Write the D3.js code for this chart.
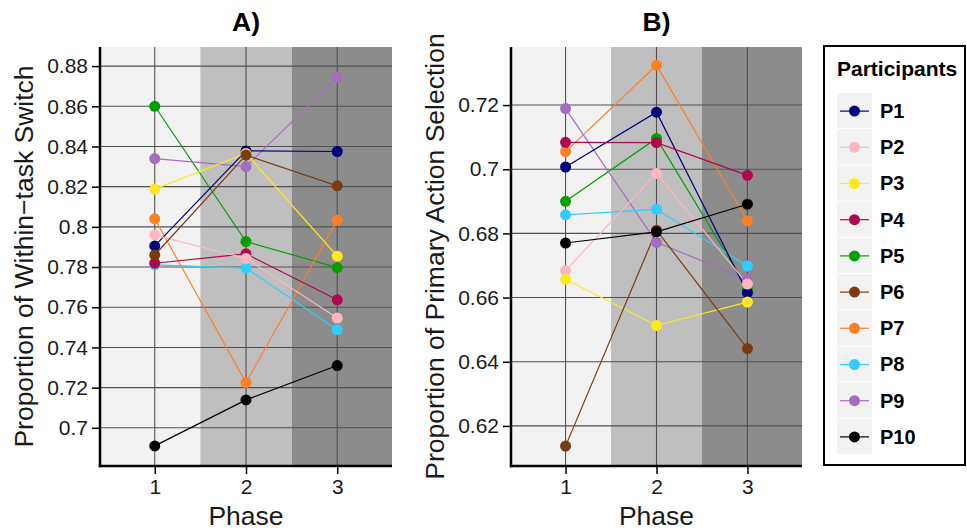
<!DOCTYPE html>
<html>
<head>
<meta charset="utf-8">
<script src="https://cdn.jsdelivr.net/npm/d3@7"></script>
<style>
  body { margin: 0; background: #fff; }
  svg { display: block; font-family: "Liberation Sans", Arial, sans-serif; }
</style>
</head>
<body>
<div id="chart"></div>
<script>
// Two panels of per-participant proportions over three phases, shared legend

const phases = [1, 2, 3];
const participants = ['P1', 'P2', 'P3', 'P4', 'P5', 'P6', 'P7', 'P8', 'P9', 'P10'];
const participantColors = ['#000080', '#ffb6c1', '#ffe81f', '#b0084f', '#00a000',
  '#7a3b10', '#ff7f24', '#33ccff', '#a66cbf', '#000000'];
// stacking order of the points (index into participants), last one on top
const drawOrder = [4, 8, 7, 6, 0, 3, 1, 2, 5, 9];

// A) proportion of within-task switch, one row per participant (phase 1..3)
const withinTaskSwitch = [
  [0.7905, 0.8378, 0.8375],
  [0.7959, 0.7843, 0.7546],
  [0.8188, 0.8365, 0.7854],
  [0.7819, 0.7866, 0.7637],
  [0.8600, 0.7927, 0.7797],
  [0.7860, 0.8357, 0.8204],
  [0.8040, 0.7225, 0.8033],
  [0.7811, 0.7795, 0.7488],
  [0.8340, 0.8300, 0.8743],
  [0.6910, 0.7139, 0.7310]
];

// B) proportion of primary action selection
const primaryAction = [
  [0.7007, 0.7178, 0.6615],
  [0.6684, 0.6987, 0.6642],
  [0.6657, 0.6513, 0.6586],
  [0.7084, 0.7083, 0.6981],
  [0.6900, 0.7096, 0.6628],
  [0.6137, 0.6810, 0.6441],
  [0.7055, 0.7324, 0.6839],
  [0.6858, 0.6875, 0.6698],
  [0.7189, 0.6772, 0.6657],
  [0.6770, 0.6805, 0.6891]
];

const switchTicks = [0.70, 0.72, 0.74, 0.76, 0.78, 0.80, 0.82, 0.84, 0.86, 0.88];
const primaryTicks = [0.62, 0.64, 0.66, 0.68, 0.70, 0.72];
const bandEdges = [[0.4, 1.5], [1.5, 2.5], [2.5, 3.6]];
const bandColors = ['#f2f2f2', '#bfbfbf', '#8c8c8c'];

const W = 967, H = 531;
const TOP = 47, BOTTOM = 466;

const svg = d3.select('#chart').append('svg')
  .attr('width', W).attr('height', H);

const fmt = v => String(+v.toFixed(2));

function drawPanel(cfg) {
  const x = d3.scaleLinear().domain([0.4, 3.6]).range([cfg.left, cfg.right]);
  const y = d3.scaleLinear().domain(cfg.yDomain).range([BOTTOM, TOP]);
  const g = svg.append('g');

  // phase shading
  g.selectAll('rect.band').data(bandEdges).join('rect')
    .attr('x', d => x(d[0])).attr('width', d => x(d[1]) - x(d[0]))
    .attr('y', TOP).attr('height', BOTTOM - TOP)
    .attr('fill', (d, i) => bandColors[i]);

  // grid
  g.selectAll('line.gy').data(cfg.ticks).join('line')
    .attr('x1', cfg.left).attr('x2', cfg.right)
    .attr('y1', d => y(d)).attr('y2', d => y(d))
    .attr('stroke', '#505050').attr('stroke-width', 1.1);
  g.selectAll('line.gx').data(phases).join('line')
    .attr('x1', d => x(d)).attr('x2', d => x(d))
    .attr('y1', TOP).attr('y2', BOTTOM)
    .attr('stroke', '#505050').attr('stroke-width', 1.1);

  // axes
  const yAxis = g.append('g').attr('transform', `translate(${cfg.left},0)`)
    .call(d3.axisLeft(y).tickValues(cfg.ticks).tickFormat(fmt).tickSize(8).tickPadding(4));
  const xAxis = g.append('g').attr('transform', `translate(0,${BOTTOM})`)
    .call(d3.axisBottom(x).tickValues(phases).tickFormat(d3.format('d')).tickSize(8).tickPadding(5));
  for (const ax of [yAxis, xAxis]) {
    ax.select('.domain').remove();
    ax.selectAll('.tick line').attr('stroke', '#000').attr('stroke-width', 1.5);
    ax.selectAll('.tick text').attr('fill', '#1a1a1a')
      .style('font-size', '21px').style('font-family', '"Liberation Sans", Arial, sans-serif');
  }
  g.append('line').attr('x1', cfg.left).attr('x2', cfg.left)
    .attr('y1', TOP).attr('y2', BOTTOM + 1.2)
    .attr('stroke', '#000').attr('stroke-width', 2.5);
  g.append('line').attr('x1', cfg.left - 1.2).attr('x2', cfg.right)
    .attr('y1', BOTTOM).attr('y2', BOTTOM)
    .attr('stroke', '#000').attr('stroke-width', 2.5);

  // participant lines then points
  const line = d3.line().x((d, i) => x(phases[i])).y(d => y(d));
  g.selectAll('path.series').data(drawOrder).join('path')
    .attr('d', p => line(cfg.values[p])).attr('fill', 'none')
    .attr('stroke', p => participantColors[p]).attr('stroke-width', 1.2);
  drawOrder.forEach(p => {
    g.selectAll(null).data(cfg.values[p]).join('circle')
      .attr('cx', (d, i) => x(phases[i])).attr('cy', d => y(d)).attr('r', 5.5)
      .attr('fill', participantColors[p]);
  });

  // titles
  const mid = (cfg.left + cfg.right) / 2;
  g.append('text').attr('x', mid).attr('y', 31).attr('text-anchor', 'middle')
    .style('font-size', '26.5px').style('font-weight', 'bold').text(cfg.title);
  g.append('text').attr('x', mid).attr('y', 525).attr('text-anchor', 'middle')
    .style('font-size', '26.5px').attr('fill', '#1a1a1a').text('Phase');
  g.append('text')
    .attr('transform', `translate(${cfg.yTitleX},${(TOP + BOTTOM) / 2}) rotate(-90)`)
    .attr('text-anchor', 'middle').style('font-size', '26.5px').attr('fill', '#1a1a1a')
    .text(cfg.yTitle);
}

drawPanel({
  title: 'A)', left: 100, right: 392, yDomain: [0.681, 0.8895],
  ticks: switchTicks, values: withinTaskSwitch,
  yTitle: 'Proportion of Within\u2212task Switch', yTitleX: 33
});
drawPanel({
  title: 'B)', left: 511, right: 802, yDomain: [0.6075, 0.7381],
  ticks: primaryTicks, values: primaryAction,
  yTitle: 'Proportion of Primary Action Selection', yTitleX: 444
});

// legend
const lg = svg.append('g');
lg.append('rect').attr('x', 824).attr('y', 46).attr('width', 141).attr('height', 419)
  .attr('fill', '#fff').attr('stroke', '#000').attr('stroke-width', 2);
lg.append('text').attr('x', 837).attr('y', 76)
  .style('font-size', '21px').style('font-weight', 'bold').text('Participants');
const keyY = d3.scaleBand().domain(participants).range([93, 455]);
const keys = lg.selectAll('g.key').data(participants).join('g')
  .attr('transform', d => `translate(837,${keyY(d)})`);
keys.append('rect').attr('width', 35).attr('height', keyY.bandwidth() - 1).attr('fill', '#f2f2f2');
keys.append('line').attr('x1', 3).attr('x2', 32)
  .attr('y1', keyY.bandwidth() / 2).attr('y2', keyY.bandwidth() / 2)
  .attr('stroke', (d, i) => participantColors[i]).attr('stroke-width', 1.2);
keys.append('circle').attr('cx', 17.5).attr('cy', keyY.bandwidth() / 2).attr('r', 5.5)
  .attr('fill', (d, i) => participantColors[i]);
keys.append('text').attr('x', 43).attr('y', keyY.bandwidth() / 2 + 7)
  .style('font-size', '20px').style('font-weight', 'bold').text(d => d);
</script>
</body>
</html>
